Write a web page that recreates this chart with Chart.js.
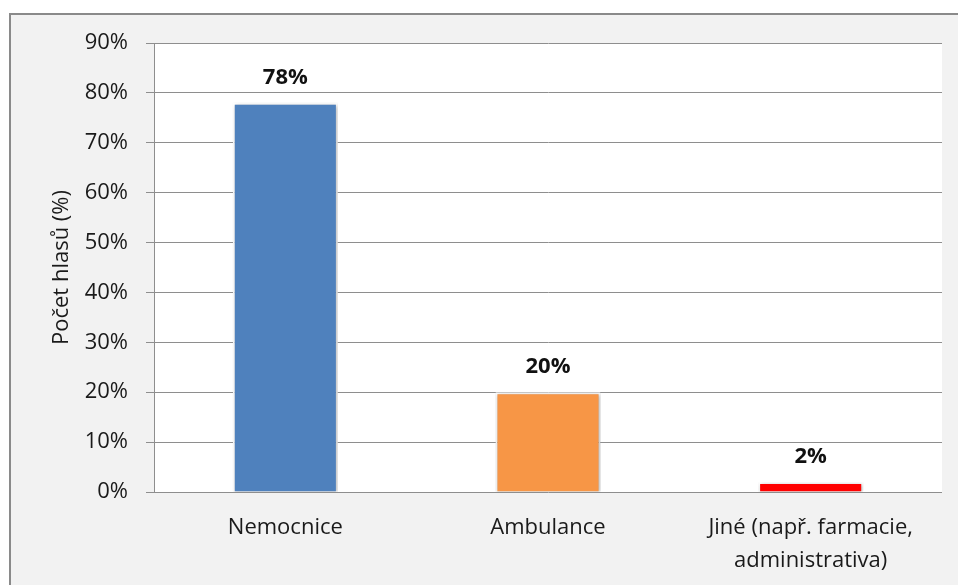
<!DOCTYPE html>
<html lang="cs">
<head>
    <meta charset="UTF-8">
    <title>Počet hlasů</title>
    <script src="https://cdn.jsdelivr.net/npm/chart.js"></script>
    <style>
        body {
            margin: 0;
            background-color: white;
            font-family: "Open Sans", sans-serif;
        }
        #frame {
            position: absolute;
            left: 9px;
            top: 13px;
            width: 980px;
            height: 600px;
            background-color: #f2f2f2;
            border: 2px solid #8a8a8a;
        }
        #wrap {
            position: absolute;
            left: 0;
            top: 0;
            width: 958px;
            height: 585px;
        }
    </style>
</head>
<body>
    <div id="frame"></div>
    <div id="wrap"><canvas id="chart" width="958" height="585"></canvas></div>

    <script>
        const categories = ['Nemocnice', 'Ambulance', ['Jiné (např. farmacie,', 'administrativa)']];
        const values = [78, 20, 2];
        const barColors = ['#4f81bd', '#f79646', '#ff0000'];
        const yTicks = [0, 10, 20, 30, 40, 50, 60, 70, 80, 90];

        // white plot area on the gray frame
        const plotBackground = {
            id: 'plotBackground',
            beforeDraw(chart) {
                const {ctx, chartArea} = chart;
                ctx.save();
                ctx.fillStyle = 'white';
                ctx.fillRect(chartArea.left, chartArea.top, chartArea.right - chartArea.left, chartArea.bottom - chartArea.top);
                ctx.restore();
            }
        };

        // soft shadow under the bars
        const barShadow = {
            id: 'barShadow',
            beforeDatasetDraw(chart) {
                const ctx = chart.ctx;
                ctx.save();
                ctx.shadowColor = 'rgba(0, 0, 0, 0.3)';
                ctx.shadowBlur = 4;
                ctx.shadowOffsetX = 1;
                ctx.shadowOffsetY = 1;
            },
            afterDatasetDraw(chart) {
                chart.ctx.restore();
            }
        };

        // bold value labels above the bars
        const valueLabels = {
            id: 'valueLabels',
            afterDatasetsDraw(chart) {
                const ctx = chart.ctx;
                const meta = chart.getDatasetMeta(0);
                ctx.save();
                ctx.font = 'bold 22px "Open Sans"';
                ctx.fillStyle = '#111';
                ctx.textAlign = 'center';
                ctx.textBaseline = 'middle';
                meta.data.forEach((bar, i) => {
                    ctx.fillText(values[i] + '%', bar.x, bar.y - 25);
                });
                ctx.restore();
            }
        };

        const ctx = document.getElementById('chart').getContext('2d');
        new Chart(ctx, {
            type: 'bar',
            data: {
                labels: categories,
                datasets: [{
                    data: values,
                    backgroundColor: barColors,
                    borderColor: 'white',
                    borderWidth: 2,
                    categoryPercentage: 0.4,
                    barPercentage: 1
                }]
            },
            options: {
                responsive: false,
                animation: false,
                layout: {
                    padding: {top: 43, right: 16, left: 0, bottom: 0}
                },
                plugins: {
                    legend: {display: false},
                    tooltip: {enabled: false}
                },
                scales: {
                    x: {
                        grid: {display: false, drawTicks: false},
                        border: {display: false},
                        ticks: {
                            color: '#1a1a1a',
                            padding: 19,
                            maxRotation: 0,
                            font: {family: 'Open Sans', size: 22, lineHeight: 1.5}
                        },
                        afterFit(scale) {
                            scale.height = 93;
                        }
                    },
                    y: {
                        min: 0,
                        max: 90,
                        afterBuildTicks(scale) {
                            scale.ticks = yTicks.map(v => ({value: v}));
                        },
                        grid: {
                            color: '#8e8e8e',
                            lineWidth: 1,
                            tickLength: 8
                        },
                        border: {color: '#8e8e8e', width: 1},
                        ticks: {
                            color: '#1a1a1a',
                            padding: 18,
                            font: {family: 'Open Sans', size: 22},
                            callback: v => v + '%'
                        },
                        title: {
                            display: true,
                            text: 'Počet hlasů (%)',
                            color: '#1a1a1a',
                            padding: {top: 49, bottom: 0},
                            font: {family: 'Open Sans', size: 22}
                        },
                        afterFit(scale) {
                            scale.width = 154;
                        }
                    }
                }
            },
            plugins: [plotBackground, barShadow, valueLabels]
        });
    </script>
</body>
</html>
